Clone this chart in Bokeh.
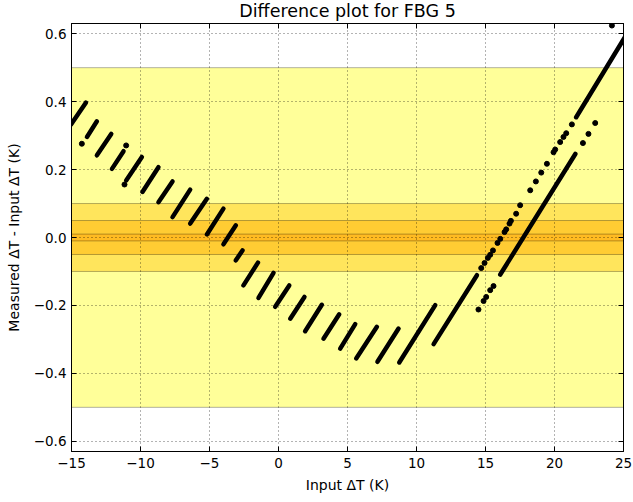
from bokeh.plotting import figure
from bokeh.models import (ColumnDataSource, BoxAnnotation, LinearAxis, FixedTicker,
                          CustomJSTickFormatter, Range1d, CustomLabelingPolicy)
from bokeh.embed import file_html
from bokeh.resources import INLINE

# ---------------- data ----------------
# short sloped segments (start x, start y, end x, end y)
seg_x0 = [-15.05, -13.88, -13.16, -12.07, -11.04, -9.86, -8.70, -7.68, -6.40, -5.19,
          -3.99, -3.09, -2.54, -1.45, -0.24, 0.85, 1.93, 3.26, 4.47, 5.63, 7.17, 8.75,
          11.24, 16.07, 21.57]
seg_y0 = [0.332, 0.296, 0.242, 0.202, 0.168, 0.134, 0.104, 0.060, 0.041, 0.009,
          -0.020, -0.067, -0.141, -0.178, -0.204, -0.239, -0.276, -0.298, -0.327, -0.356,
          -0.366, -0.368, -0.314, -0.109, 0.354]
seg_x1 = [-13.96, -13.16, -12.12, -11.23, -9.90, -8.70, -7.68, -6.40, -5.19, -3.99,
          -3.09, -2.61, -1.49, -0.36, 0.78, 1.88, 3.14, 4.40, 5.56, 7.13, 8.70, 11.36,
          14.38, 21.51, 25.30]
seg_y1 = [0.397, 0.342, 0.305, 0.254, 0.237, 0.207, 0.165, 0.141, 0.114, 0.085,
          0.036, -0.038, -0.074, -0.104, -0.141, -0.175, -0.198, -0.226, -0.255, -0.263,
          -0.268, -0.199, -0.111, 0.246, 0.603]

# isolated / sparse points
pt_x = [-14.25, -11.04, -11.16,
        14.69, 14.93, 15.17, 15.34, 15.54, 15.87, 16.07, 16.38, 16.50, 16.74, 16.84, 17.22, 17.51,
        18.24, 18.65, 19.04, 19.45, 19.93, 20.05, 20.41, 20.65, 20.85, 21.26, 24.16,
        14.49, 14.86, 15.05, 15.34, 15.58, 22.06, 22.46, 22.95]
pt_y = [0.276, 0.271, 0.156,
        -0.090, -0.075, -0.060, -0.051, -0.038, -0.016, -0.004, 0.016, 0.024, 0.041, 0.049, 0.070, 0.095,
        0.139, 0.165, 0.191, 0.217, 0.251, 0.259, 0.281, 0.296, 0.307, 0.333, 0.624,
        -0.212, -0.187, -0.175, -0.155, -0.143, 0.278, 0.305, 0.337]

# tolerance bands
band_lo = [-0.5, -0.1, -0.05, -0.01]
band_hi = [0.5, 0.1, 0.05, 0.01]
band_colors = ["#ffff99", "#ffe55c", "#ffcc33", "#ffbb22"]

x_ticks = [-15, -10, -5, 0, 5, 10, 15, 20, 25]
y_ticks = [-0.6, -0.4, -0.2, 0.0, 0.2, 0.4, 0.6]

FONT = "DejaVu Sans"

p = figure(frame_width=552, frame_height=428, output_backend="svg", toolbar_location=None,
           x_range=Range1d(-15, 25), y_range=Range1d(-0.63, 0.63),
           min_border_left=71, min_border_right=10, min_border_top=22, min_border_bottom=51,
           title="Difference plot for FBG 5")
p.background_fill_color = "white"
p.border_fill_color = "white"
p.outline_line_color = "black"
p.outline_line_width = 1

p.title.align = "center"
p.title.text_font = FONT
p.title.text_font_size = "17.5px"
p.title.text_font_style = "normal"
p.title.text_color = "black"
p.title.offset = 0
p.title.standoff = -3

for lo, hi, c in zip(band_lo, band_hi, band_colors):
    p.add_layout(BoxAnnotation(bottom=lo, top=hi, fill_color=c, fill_alpha=1.0,
                               line_color="black", line_alpha=0.3, line_width=1,
                               level="image"))

seg_src = ColumnDataSource(dict(x0=seg_x0, y0=seg_y0, x1=seg_x1, y1=seg_y1))
p.segment("x0", "y0", "x1", "y1", source=seg_src, line_color="black", line_width=4.5,
          line_cap="round")
pt_src = ColumnDataSource(dict(x=pt_x, y=pt_y))
p.scatter("x", "y", source=pt_src, size=5, color="black")

xfmt = CustomJSTickFormatter(code="return (tick < 0 ? '\u2212' : '') + Math.abs(tick).toFixed(0);")
yfmt = CustomJSTickFormatter(code="return (tick < -1e-9 ? '\u2212' : '') + Math.abs(tick).toFixed(1);")

for ax in p.xaxis:
    ax.ticker = FixedTicker(ticks=x_ticks)
    ax.formatter = xfmt
for ax in p.yaxis:
    ax.ticker = FixedTicker(ticks=y_ticks)
    ax.formatter = yfmt

p.xaxis.axis_label = "Input \u0394T (K)"
p.yaxis.axis_label = "Measured \u0394T - Input \u0394T (K)"

for ax in list(p.xaxis) + list(p.yaxis):
    ax.major_tick_in = 5
    ax.major_tick_out = 0
    ax.minor_tick_line_color = None
    ax.axis_line_color = "black"
    ax.major_label_text_font = FONT
    ax.major_label_text_font_size = "13.5px"
    ax.major_label_text_color = "black"
    ax.axis_label_text_font = FONT
    ax.axis_label_text_font_size = "14px"
    ax.axis_label_text_font_style = "normal"
    ax.axis_label_text_color = "black"
p.xaxis.major_label_standoff = 6
p.xaxis.axis_label_standoff = 6
p.yaxis.major_label_standoff = 5
p.yaxis.axis_label_standoff = 9

# mirrored ticks on the top and right sides (labels suppressed)
hide_all = CustomLabelingPolicy(code="""
const ii = Array.from(indices);
for (const i of ii) indices.unset(i);
return indices;
""")
top = LinearAxis(ticker=FixedTicker(ticks=x_ticks), major_label_text_font_size="1px",
                 major_label_policy=hide_all,
                 major_tick_in=5, major_tick_out=0, minor_tick_line_color=None,
                 major_label_standoff=0, axis_line_color="black")
right = LinearAxis(ticker=FixedTicker(ticks=y_ticks), major_label_text_font_size="1px",
                   major_label_policy=hide_all,
                   major_tick_in=5, major_tick_out=0, minor_tick_line_color=None,
                   major_label_standoff=0, axis_line_color="black")
p.add_layout(top, "above")
p.add_layout(right, "right")

for g, t in ((p.xgrid, x_ticks), (p.ygrid, y_ticks)):
    g.ticker = FixedTicker(ticks=t)
    g.grid_line_color = "black"
    g.grid_line_alpha = 0.6
    g.grid_line_dash = "1 3"
    g.grid_line_width = 1
    g.level = "underlay"

open("out.html", "w").write(file_html(p, INLINE))
